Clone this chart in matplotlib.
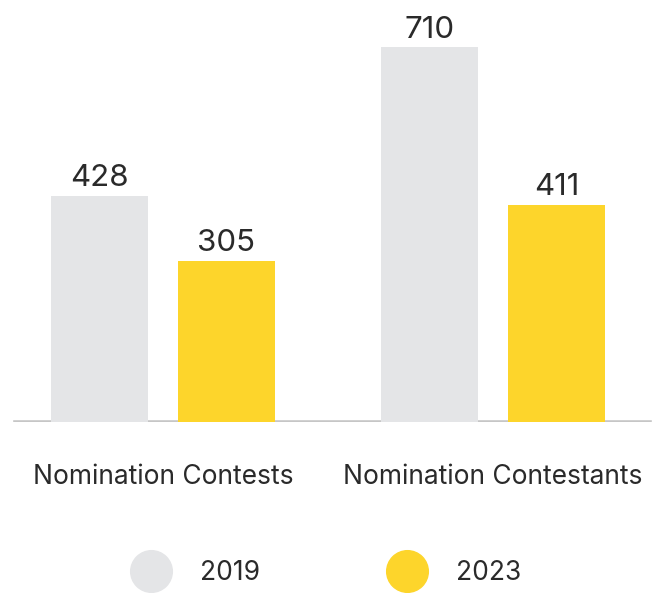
import matplotlib

matplotlib.use("Agg")

from matplotlib import pyplot as plt  # noqa: E402
from matplotlib.lines import Line2D  # noqa: E402
import numpy as np  # noqa: E402

categories = ["Nomination Contests", "Nomination Contestants"]
years = ["2019", "2023"]
values_2019 = [428, 710]
values_2023 = [305, 411]

GRAY = "#e4e5e7"
YELLOW = "#fdd52b"
TEXT = "#2a2a2a"

plt.rcParams["font.family"] = ["Inter", "DejaVu Sans"]

figure = plt.figure(figsize=(6.62, 5.93), dpi=100)
axis = figure.add_axes([0.0, 0.2884, 1.0, 0.7116])

x = np.arange(len(categories))
width = 0.294
offset = 0.1924

for values, color, shift in ((values_2019, GRAY, -offset), (values_2023, YELLOW, offset)):
    bars = axis.bar(x + shift, values, width=width, color=color, zorder=2)
    axis.bar_label(bars, labels=[str(v) for v in values], padding=2.5,
                   fontsize=22.5, color=TEXT)

axis.set_xlim(-0.4485 - 15 / 330, 1.476 + 12 / 330)
axis.set_ylim(0, 799)
# baseline sits under the bars
axis.axhline(0, xmin=15 / 662, xmax=650 / 662, color="#c6c6c6", linewidth=2.6, zorder=1)

for xi, name in zip(x, categories):
    figure.text((163 + 330 * xi) / 662, 1 - 477 / 593, name, ha="center", va="center",
                fontsize=19, color=TEXT)

axis.set_axis_off()

handles = [
    Line2D([], [], marker="o", linestyle="none", markersize=30, color=c)
    for c in (GRAY, YELLOW)
]
figure.legend(handles, years, loc="center", bbox_to_anchor=(0.491, 1 - 573 / 593),
              ncol=2, frameon=False, fontsize=19, labelcolor=TEXT,
              handlelength=1.7, handletextpad=1.0, columnspacing=4.72)

figure.savefig("out.png", dpi=100)
plt.close(figure)
